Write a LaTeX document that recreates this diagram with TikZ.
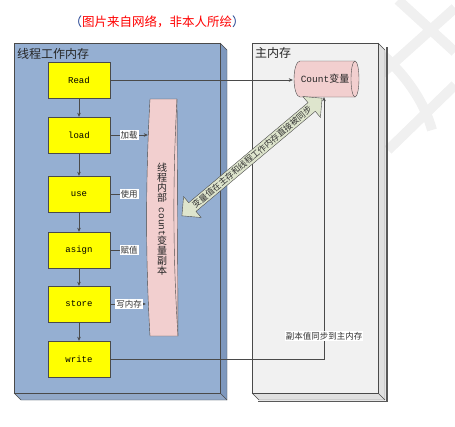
\documentclass[tikz,border=0pt]{standalone}
\usepackage{fontspec}
\setmainfont{Noto Sans CJK SC}
\newfontfamily\mono{Liberation Mono}
\usetikzlibrary{shapes.arrows,arrows.meta}
\definecolor{thrblue}{HTML}{95AFD2}
\definecolor{thrside}{HTML}{7E98BE}
\definecolor{memgray}{HTML}{F1F1F1}
\definecolor{memside}{HTML}{E0E0E0}
\definecolor{opyel}{HTML}{FFFF00}
\definecolor{pinkc}{HTML}{F2CFCF}
\definecolor{arrowg}{HTML}{DEE5CD}
\definecolor{edgec}{HTML}{4A4A4A}
\definecolor{titleblue}{HTML}{1F3F8F}
\begin{document}
\begin{tikzpicture}[x=1pt,y=-1pt,
  wm/.style={line width=10pt, draw=black!6},
  frontbox/.style={draw=edgec, anchor=north west, inner sep=0pt, minimum width=#1},
  op/.style={draw=edgec, fill=opyel, minimum width=62pt, minimum height=36pt, inner sep=0pt, font=\mono\fontsize{9}{10}\selectfont},
  tip/.style={draw=edgec, -{Stealth[length=4pt,width=3.5pt]}},
  lbl/.style={fill=white, inner sep=1pt, font=\fontsize{8.5}{9}\selectfont, text=black!80},
  hdr/.style={anchor=west, inner sep=0pt, font=\fontsize{12}{12}\selectfont, text=black!85}]
\useasboundingbox (0,0) rectangle (455,426);
% watermark
\draw[wm] (398,0) -- (455,52);
\draw[wm] (455,8) -- (330,120);
\draw[wm] (383,55) .. controls (410,80) and (425,105) .. (432,130);
\draw[wm] (455,85) -- (388,150);
% title
\node (title) at (157,22) {\fontsize{12.5}{13}\selectfont\textcolor{titleblue}{（}\textcolor{red}{图片来自网络，非本人所绘}\textcolor{titleblue}{）}};
% left box
\fill[thrside] (220,43) -- (227,50) -- (227,400) -- (220,393) -- cycle;
\fill[thrside!85!white] (14,393) -- (220,393) -- (227,400) -- (21,400) -- cycle;
\draw[edgec] (220,43) -- (227,50) -- (227,400) -- (21,400) -- (14,393);
\draw[edgec] (220,393) -- (227,400);
\node[frontbox=206pt, minimum height=350pt, fill=thrblue] (thr) at (14,43) {};
\node[hdr] (thrlbl) at (17,54) {线程工作内存};
% right box
\fill[memside] (378,43) -- (385,50) -- (385,400) -- (378,393) -- cycle;
\fill[memside] (252,393) -- (378,393) -- (385,400) -- (259,400) -- cycle;
\draw[edgec] (378,43) -- (385,50) -- (385,400) -- (259,400) -- (252,393);
\draw[edgec] (378,393) -- (385,400);
\draw[black!65, line width=1.6pt] (386.8,47) -- (386.8,401.5) -- (258,401.5);
\node[frontbox=126pt, minimum height=350pt, fill=memgray] (mem) at (252,43) {};
\node[hdr] (memlbl) at (255,53) {主内存};
% operations
\node[op] (read) at (79,80) {Read};
\node[op] (load) at (79,135) {load};
\node[op] (use) at (79,194) {use};
\node[op] (asign) at (79,250) {asign};
\node[op] (store) at (79,304) {store};
\node[op] (write) at (79,359) {write};
\foreach \a/\b in {read/load,load/use,use/asign,asign/store,store/write}
  \draw[tip] (\a) -- (\b);
% thread copy shape
\node[minimum width=30pt, minimum height=237pt, inner sep=0pt] (copy) at (163,218) {};
\draw[edgec, fill=pinkc] (150,99) -- (177,99) -- (178,336) -- (150,336) .. controls (145.5,260) and (145.5,180) .. (150,99) -- cycle;
\draw[edgec] (177,99) .. controls (172.5,180) and (173,260) .. (178,336);
\node[align=center, inner sep=0pt, font=\fontsize{10}{10}\selectfont, text=black!85] (c1) at (162,183) {线\\程\\内\\部};
\node[rotate=-90, inner sep=0pt, font=\mono\fontsize{9.5}{10}\selectfont, text=black!85] (c2) at (162,222) {count};
\node[align=center, inner sep=0pt, font=\fontsize{10}{10}\selectfont, text=black!85] (c3) at (162,256) {变\\量\\副\\本};
% edges to copy
\draw[tip] (load.east) -- (load.east -| copy.west) node[lbl, midway] {加载};
\draw[tip, shorten >=9pt] (use.east) -- (use.east -| copy.west) node[lbl, midway] {使用};
\draw[tip, shorten >=9pt] (asign.east) -- (asign.east -| copy.west) node[lbl, midway] {赋值};
\draw[tip, shorten >=2pt] (store.east) -- (store.east -| copy.west) node[lbl, midway] {写内存};
% main memory variable
\node[minimum width=62pt, minimum height=36pt, inner sep=0pt] (cnt) at (324,79) {};
\draw[edgec, fill=pinkc] (300,61) -- (355,61) arc[start angle=90, end angle=-90, x radius=4pt, y radius=18pt] -- (300,97) arc[start angle=270, end angle=90, x radius=6pt, y radius=18pt] -- cycle;
\draw[edgec] (355,61) arc[start angle=90, end angle=270, x radius=4pt, y radius=18pt];
\node[inner sep=0pt, text=black!85] (cnttxt) at (325,79) {{\mono\fontsize{9.5}{10}\selectfont Count}{\fontsize{10}{10}\selectfont 变量}};
% connectors to main memory
\draw[tip] (read.east) -- (read.east -| cnt.west);
\draw[tip] (write.east) -| (cnt.south);
\node[lbl] (synclbl) at (cnt.south |- 0,336) {副本值同步到主内存};
% block double arrow
\node[double arrow, draw=edgec, fill=arrowg, rotate=40, minimum height=183pt, inner sep=1.5pt, double arrow head extend=8pt, font=\fontsize{8.5}{9}\selectfont, text=black!80] (sync) at (252,157) {变量值在主存和线程工作内存直接被同步};
\end{tikzpicture}
\end{document}
